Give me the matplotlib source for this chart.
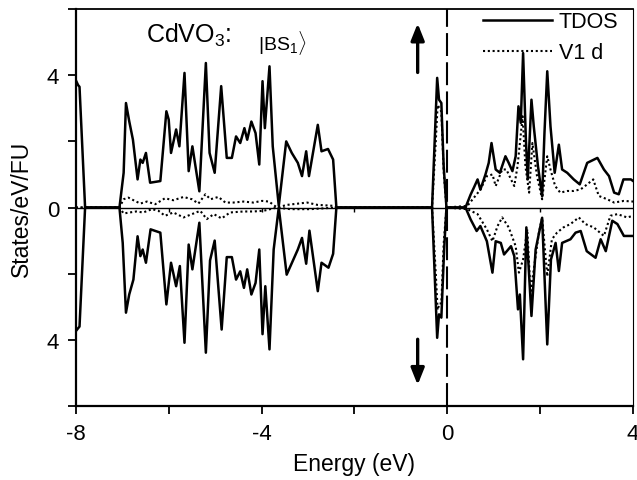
import matplotlib
matplotlib.use("Agg")
import matplotlib.pyplot as plt
import numpy as np

plt.rcParams['font.family'] = ['Liberation Sans', 'DejaVu Sans']
plt.rcParams['mathtext.fontset'] = 'custom'
plt.rcParams['mathtext.rm'] = 'Liberation Sans'
plt.rcParams['mathtext.it'] = 'Liberation Sans:italic'

# total DOS, spin up
tdos_up_e = [-8.0, -7.95, -7.92, -7.8, -7.06, -6.97, -6.92, -6.85, -6.77, -6.67, -6.61, -6.56,
             -6.49, -6.40, -6.18, -6.05, -6.0, -5.95, -5.84, -5.77, -5.66, -5.57, -5.49, -5.34,
             -5.20, -5.12, -5.01, -4.87, -4.75, -4.64, -4.55, -4.46, -4.37, -4.31, -4.22, -4.13,
             -4.05, -3.98, -3.93, -3.83, -3.76, -3.63, -3.47, -3.35, -3.22, -3.13, -3.04, -2.98,
             -2.79, -2.71, -2.57, -2.46, -2.39,
             -0.33, -0.22, -0.18, -0.13, -0.08, -0.02,
             0.39, 0.50, 0.57, 0.65, 0.71, 0.82, 0.89, 0.95, 1.04, 1.13, 1.25, 1.32, 1.40,
             1.47, 1.53, 1.58, 1.63, 1.69, 1.73, 1.81, 1.86, 1.95, 2.04, 2.09, 2.15, 2.22,
             2.31, 2.40, 2.47, 2.58, 2.72, 2.85, 3.01, 3.23, 3.37, 3.48, 3.59, 3.69, 3.79,
             3.95, 4.0]
tdos_up = [3.85, 3.7, 3.65, 0.0, 0.0, 1.05, 3.16, 2.61, 2.05, 0.85, 1.45, 1.35,
           1.65, 0.75, 0.8, 2.91, 2.66, 1.65, 2.36, 1.85, 4.07, 1.1, 1.85, 0.49,
           4.37, 1.65, 1.05, 3.67, 1.5, 1.5, 2.15, 1.95, 2.4, 2.05, 2.6, 2.25,
           1.3, 3.82, 2.4, 4.27, 1.85, 0.05, 2.0, 1.65, 1.35, 0.95, 1.7, 0.95,
           2.5, 1.7, 1.77, 1.45, 0.0,
           0.0, 3.92, 3.26, 3.16, 1.25, 0.0,
           0.0, 0.39, 0.6, 0.85, 0.54, 1.0, 1.35, 1.95, 1.15, 1.05, 1.55, 1.35, 1.1,
           1.55, 3.06, 2.56, 4.67, 2.05, 0.85, 3.26, 2.45, 1.25, 0.34, 2.25, 4.12, 2.45,
           1.05, 1.9, 1.15, 1.05, 0.85, 0.7, 1.35, 1.5, 1.15, 0.95, 0.45, 0.4, 0.85,
           0.85, 0.8]

# total DOS, spin down
tdos_dn_e = [-8.0, -7.95, -7.92, -7.8, -7.06, -6.99, -6.92, -6.85, -6.76, -6.67, -6.61, -6.56,
             -6.49, -6.39, -6.18, -6.05, -5.95, -5.84, -5.76, -5.66, -5.57, -5.49, -5.34,
             -5.20, -5.11, -5.01, -4.86, -4.75, -4.64, -4.55, -4.46, -4.38, -4.31, -4.22, -4.13,
             -4.05, -3.98, -3.92, -3.83, -3.74, -3.63, -3.46, -3.22, -3.13, -3.04, -2.97,
             -2.79, -2.71, -2.56, -2.46, -2.39,
             -0.33, -0.22, -0.18, -0.13, -0.07, -0.02,
             0.39, 0.50, 0.63, 0.71, 0.85, 0.97, 1.04, 1.15, 1.22, 1.37, 1.44, 1.52, 1.56,
             1.63, 1.70, 1.81, 1.90, 2.04, 2.15, 2.23, 2.33, 2.40, 2.47, 2.65, 2.76, 2.87,
             3.0, 3.19, 3.30, 3.41, 3.55, 3.66, 3.80, 3.98, 4.0]
tdos_dn = [-3.74, -3.65, -3.6, 0.0, 0.0, -1.07, -3.18, -2.63, -2.18, -0.87, -1.47, -1.27,
           -1.67, -0.66, -0.76, -2.93, -1.67, -2.38, -1.77, -4.09, -1.12, -1.87, -0.46,
           -4.39, -1.6, -1.0, -3.69, -1.5, -1.5, -2.18, -1.93, -2.43, -1.87, -2.63, -2.28,
           -1.27, -3.83, -2.38, -4.29, -1.27, 0.0, -2.03, -1.27, -0.92, -1.7, -0.7,
           -2.53, -1.67, -1.82, -1.4, 0.0,
           0.0, -3.94, -3.23, -3.33, -1.27, 0.0,
           0.0, -0.36, -0.71, -0.56, -1.02, -1.97, -1.02, -1.07, -1.42, -1.17, -1.47, -3.08, -2.63,
           -4.59, -0.6, -3.28, -1.27, -0.31, -4.14, -1.57, -1.07, -1.92, -1.07, -0.96, -0.76, -0.71,
           -1.32, -1.52, -0.96, -1.32, -0.4, -0.5, -0.86, -0.86, -0.86]

# V1 d partial DOS, spin up
v1d_up_e = [-8.0, -7.06, -6.97, -6.87, -6.73, -6.61, -6.47, -6.29, -6.08, -5.9, -5.68, -5.5,
            -5.36, -5.21, -5.1, -4.93, -4.78, -4.61, -4.39, -4.18, -3.99, -3.84, -3.67,
            -3.45, -3.02, -2.8, -2.44, -2.38,
            -0.33, -0.25, -0.21, -0.17, -0.13, -0.08, -0.02,
            0.43, 0.71, 0.85, 0.97, 1.04, 1.18, 1.27, 1.37, 1.44, 1.51, 1.62, 1.68, 1.76,
            1.83, 1.93, 2.04, 2.15, 2.22, 2.32, 2.43, 2.58, 2.72, 2.87, 3.01, 3.14, 3.26,
            3.44, 3.59, 3.80, 4.0]
v1d_up = [0.0, 0.0, 0.25, 0.3, 0.2, 0.12, 0.18, 0.1, 0.28, 0.22, 0.32, 0.25,
          0.12, 0.4, 0.25, 0.32, 0.15, 0.15, 0.18, 0.15, 0.2, 0.18, 0.0,
          0.08, 0.15, 0.08, 0.05, 0.0,
          0.0, 2.0, 3.1, 3.0, 2.9, 1.1, 0.0,
          0.05, 0.54, 0.95, 1.0, 0.65, 1.15, 1.15, 0.85, 0.65, 1.25, 2.76, 1.25, 0.45,
          1.95, 0.95, 0.25, 1.55, 1.15, 0.65, 0.45, 0.5, 0.5, 0.55, 0.7, 0.85, 0.35,
          0.25, 0.15, 0.2, 0.18]

# V1 d partial DOS, spin down
v1d_dn_e = [-8.0, -7.06, -6.97, -6.84, -6.7, -6.55, -6.36, -6.22, -6.08, -5.9, -5.68, -5.5,
            -5.32, -5.18, -5.03, -4.86, -4.68, -4.39, -4.18, -3.96, -3.67, -3.38, -2.95,
            -2.38,
            -0.33, -0.25, -0.21, -0.17, -0.13, -0.08, -0.02,
            0.43, 0.65, 0.85, 0.97, 1.08, 1.18, 1.32, 1.47, 1.54, 1.63, 1.72, 1.79, 1.86,
            1.97, 2.04, 2.15, 2.25, 2.36, 2.50, 2.65, 2.83, 2.97, 3.15, 3.37, 3.51, 3.66,
            3.87, 4.0]
v1d_dn = [0.0, 0.0, -0.18, -0.15, -0.12, -0.15, -0.05, -0.1, -0.25, -0.15, -0.3, -0.2,
          -0.1, -0.35, -0.2, -0.33, -0.15, -0.12, -0.12, -0.1, 0.0, -0.05, -0.05,
          0.0,
          0.0, -2.0, -3.1, -2.9, -2.9, -1.1, 0.0,
          -0.05, -0.2, -0.66, -1.02, -0.56, -0.3, -0.6, -1.17, -1.97, -1.57, -0.66, -2.58, -1.87,
          -0.76, -0.31, -2.08, -0.96, -0.76, -0.6, -0.5, -0.3, -0.5, -0.6, -0.86, -0.25, -0.2,
          -0.3, -0.25]

x_ticks = [-8, -6, -4, -2, 0, 2, 4]
x_labels = ['-8', '', '-4', '', '0', '', '4']
y_ticks = [-6, -4, -2, 0, 2, 4, 6]
y_labels = ['', '4', '', '0', '', '4', '']

fig = plt.figure(figsize=(6.37, 4.81), dpi=100)
ax = fig.add_axes([0.119, 0.154, 0.875, 0.825])

ax.plot(tdos_up_e, tdos_up, color='black', lw=1.8, label='TDOS')
ax.plot(v1d_up_e, v1d_up, color='black', lw=1.5, ls=(0, (1, 1.3)), label='V1 d')
ax.plot(tdos_dn_e, tdos_dn, color='black', lw=1.8)
ax.plot(v1d_dn_e, v1d_dn, color='black', lw=1.5, ls=(0, (1, 1.3)))

ax.axhline(0, color='black', lw=1.0)
ax.vlines([-6, -4, -2, 2], -0.15, 0, color='black', lw=1.0)
ax.axvline(0, color='black', lw=1.5, ls=(0, (11, 3)))

# spin arrows
ax.annotate('', xy=(-0.64, 5.65), xytext=(-0.64, 4.0),
            arrowprops=dict(arrowstyle='-|>,head_length=1.0,head_width=0.4', color='black', lw=2.4))
ax.annotate('', xy=(-0.64, -5.45), xytext=(-0.64, -3.9),
            arrowprops=dict(arrowstyle='-|>,head_length=1.0,head_width=0.4', color='black', lw=2.4))

ax.text(-5.56, 5.22, r'CdVO$_3$:', fontsize=18, ha='center', va='center')
ax.text(-3.56, 5.0, r'$|\mathrm{BS}_1\rangle$', fontsize=14, ha='center', va='center')

ax.set_xlim(-8, 4)
ax.set_ylim(-6, 6)
ax.set_xticks(x_ticks)
ax.set_xticklabels(x_labels)
ax.set_yticks(y_ticks)
ax.set_yticklabels(y_labels)
ax.tick_params(direction='out', length=6, width=1.3, labelsize=16, pad=6)
ax.set_xlabel('Energy (eV)', fontsize=16.5, labelpad=6)
ax.set_ylabel('States/eV/FU', fontsize=16.5, labelpad=10)

ax.spines['left'].set_linewidth(1.6)
ax.spines['bottom'].set_linewidth(1.6)
ax.spines['top'].set_linewidth(1.3)
ax.spines['right'].set_linewidth(0.8)

ax.legend(loc='upper right', bbox_to_anchor=(0.975, 0.997), frameon=False, fontsize=15.5,
          handlelength=3.2, handletextpad=0.3, borderaxespad=0.0, labelspacing=0.45,
          borderpad=0.05)

plt.savefig('out.png', dpi=100)
